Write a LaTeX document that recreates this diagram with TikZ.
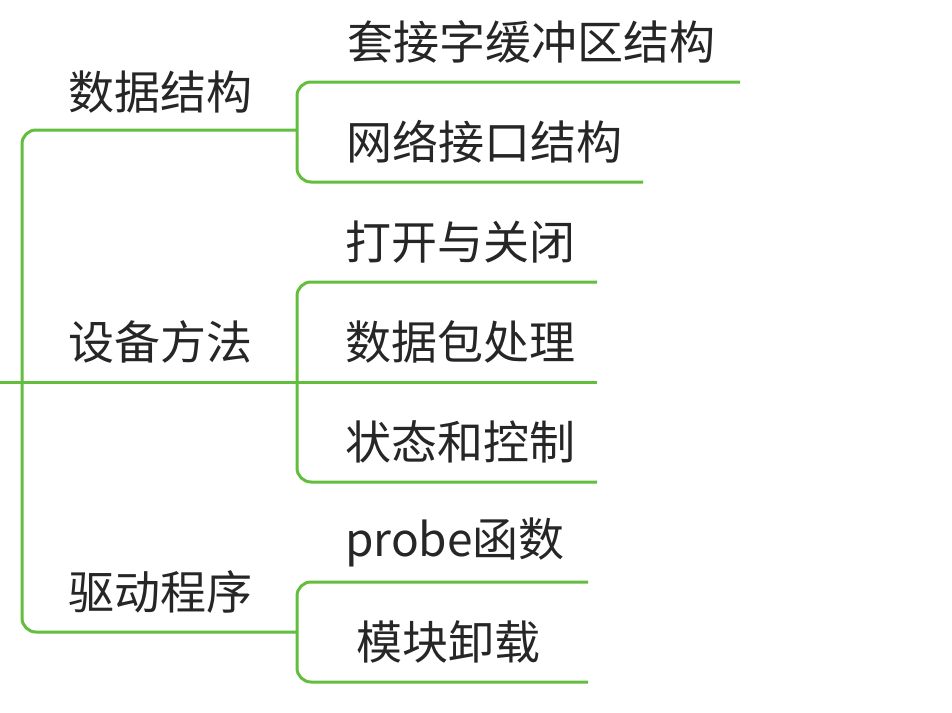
\documentclass[tikz,border=0pt]{standalone}
\usepackage{fontspec}
\setmainfont{Noto Sans CJK SC}
\definecolor{gr}{RGB}{98,190,60}
\begin{document}
\begin{tikzpicture}[x=1pt,y=-1pt,
  ln/.style={draw=gr,line width=3pt,rounded corners=14pt},
  lab/.style={font=\fontsize{46}{52}\selectfont,text=black!85,inner sep=0pt}]
\useasboundingbox[fill=white] (0,0) rectangle (952,712);
\coordinate (r) at (0,382);
% root spine
\draw[ln] (297,130) -- (22,130) -- (22,632) -- (297,632);
\draw[ln] (r) -- (597,382);
% data structures
\draw[ln] (740,82) -- (297,82) -- (297,182) -- (643,182);
% device methods
\draw[ln] (597,282) -- (297,282) -- (297,482) -- (597,482);
% driver
\draw[ln] (588,582) -- (297,582) -- (297,682) -- (588,682);
\node[lab] (a) at (160,92) {数据结构};
\node[lab] (b) at (160,342) {设备方法};
\node[lab] (c) at (160,592) {驱动程序};
\node[lab] (a1) at (531,42) {套接字缓冲区结构};
\node[lab] (a2) at (484,142) {网络接口结构};
\node[lab] (b1) at (460,242) {打开与关闭};
\node[lab] (b2) at (460,342) {数据包处理};
\node[lab] (b3) at (460,442) {状态和控制};
\node[lab] (c1) at (455,542) {probe函数};
\node[lab] (c2) at (448,642) {模块卸载};
\end{tikzpicture}
\end{document}
